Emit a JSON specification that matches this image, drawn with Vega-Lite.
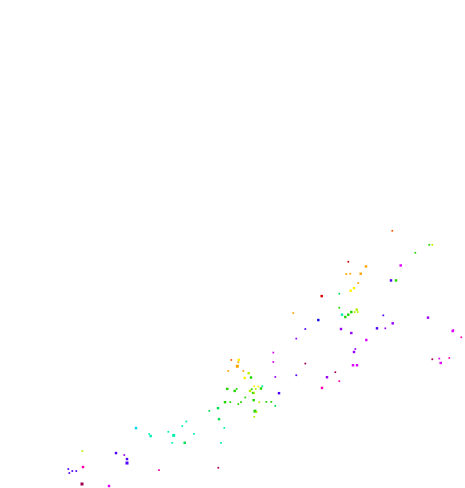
{
  "$schema": "https://vega.github.io/schema/vega-lite/v6.json",
  "width": 465,
  "height": 488,
  "autosize": {"type": "fit", "contains": "padding"},
  "padding": 0,
  "background": "white",
  "config": {"view": {"stroke": null}},
  "data": {"values": [
    {"x":136,"y":429,"c":"c","n":2},
    {"x":149.3,"y":435,"c":"aq","n":1},
    {"x":150.7,"y":437,"c":"aq","n":2},
    {"x":82.3,"y":452,"c":"yg","n":1},
    {"x":116,"y":454,"c":"bv","n":2},
    {"x":124.3,"y":456,"c":"v","n":1},
    {"x":127,"y":460,"c":"bv","n":2},
    {"x":127,"y":464,"c":"bv","n":3},
    {"x":83,"y":468,"c":"p","n":2},
    {"x":68.3,"y":470,"c":"bv","n":1},
    {"x":72.3,"y":472,"c":"bv","n":1},
    {"x":76.3,"y":472,"c":"bv","n":1},
    {"x":69.3,"y":474,"c":"bv","n":1},
    {"x":159,"y":471,"c":"p","n":1},
    {"x":82,"y":485,"c":"dm","n":3},
    {"x":109,"y":487,"c":"m","n":2},
    {"x":225,"y":403,"c":"g","n":2},
    {"x":230.3,"y":403,"c":"g","n":1},
    {"x":245.3,"y":398.3,"c":"g","n":1},
    {"x":253.7,"y":401,"c":"g","n":2},
    {"x":241,"y":403,"c":"g","n":1},
    {"x":238.3,"y":405,"c":"g","n":1},
    {"x":259.3,"y":403,"c":"yg","n":1},
    {"x":255,"y":412,"c":"g","n":3},
    {"x":256.5,"y":413,"c":"yg","n":1},
    {"x":254.3,"y":417.7,"c":"yg","n":1},
    {"x":209.3,"y":411.7,"c":"sg","n":1},
    {"x":218,"y":409,"c":"sg","n":2},
    {"x":219,"y":420,"c":"sg","n":2},
    {"x":224.3,"y":428.7,"c":"aq","n":1},
    {"x":186.3,"y":422.3,"c":"aq","n":1},
    {"x":182.3,"y":427,"c":"aq","n":1},
    {"x":168.3,"y":432.7,"c":"aq","n":1},
    {"x":173.7,"y":436.3,"c":"aq","n":3},
    {"x":194,"y":434.7,"c":"aq","n":1},
    {"x":172.3,"y":443.7,"c":"aq","n":1},
    {"x":184.7,"y":443.7,"c":"sg","n":2},
    {"x":221,"y":443.7,"c":"aq","n":1},
    {"x":218.3,"y":468.7,"c":"dm","n":1},
    {"x":266.3,"y":402.7,"c":"g","n":1},
    {"x":271.3,"y":402.7,"c":"g","n":1},
    {"x":275.3,"y":406.7,"c":"sg","n":1},
    {"x":231.3,"y":360.7,"c":"or","n":1},
    {"x":238.7,"y":360.7,"c":"y","n":2},
    {"x":237.3,"y":367,"c":"o","n":3},
    {"x":238.3,"y":363,"c":"o","n":1},
    {"x":228.3,"y":371.7,"c":"o","n":1},
    {"x":243.3,"y":371.7,"c":"o","n":1},
    {"x":248.7,"y":374,"c":"yg","n":2},
    {"x":244.7,"y":378.7,"c":"y","n":2},
    {"x":251,"y":378.3,"c":"g","n":2},
    {"x":254.3,"y":387,"c":"y","n":1},
    {"x":258.3,"y":387.3,"c":"y","n":1},
    {"x":255.7,"y":389.7,"c":"yg","n":1},
    {"x":262.3,"y":387,"c":"aq","n":1},
    {"x":261,"y":389.3,"c":"g","n":2},
    {"x":227.3,"y":389.7,"c":"g","n":2},
    {"x":236.7,"y":389.7,"c":"g","n":1},
    {"x":234.7,"y":391.7,"c":"g","n":2},
    {"x":251.7,"y":390,"c":"g","n":1},
    {"x":250,"y":391.7,"c":"yg","n":2},
    {"x":253.7,"y":393.7,"c":"yg","n":2},
    {"x":252.7,"y":393.7,"c":"g","n":1},
    {"x":293.3,"y":313.7,"c":"o","n":1},
    {"x":339.3,"y":308.3,"c":"g","n":1},
    {"x":342,"y":315.3,"c":"aq","n":2},
    {"x":345.3,"y":317.7,"c":"g","n":2},
    {"x":348.3,"y":315.3,"c":"g","n":2},
    {"x":351.3,"y":312.7,"c":"g","n":2},
    {"x":356.7,"y":310.3,"c":"yg","n":2},
    {"x":354.7,"y":312.7,"c":"yg","n":1},
    {"x":357.7,"y":312.7,"c":"yg","n":1},
    {"x":318.3,"y":320.7,"c":"b","n":2},
    {"x":305.3,"y":329.7,"c":"bv","n":1},
    {"x":341,"y":329.7,"c":"v","n":2},
    {"x":351.3,"y":333.7,"c":"v","n":2},
    {"x":296.3,"y":339.3,"c":"v","n":1},
    {"x":273.3,"y":353.3,"c":"m","n":1},
    {"x":273.3,"y":362.7,"c":"m","n":1},
    {"x":305.3,"y":364.3,"c":"dm","n":1},
    {"x":355.3,"y":349.7,"c":"v","n":1},
    {"x":354,"y":352.7,"c":"v","n":2},
    {"x":353,"y":366,"c":"m","n":2},
    {"x":357,"y":366,"c":"m","n":2},
    {"x":275.3,"y":377.7,"c":"v","n":1},
    {"x":296.3,"y":376,"c":"bv","n":1},
    {"x":327,"y":378,"c":"v","n":2},
    {"x":335.3,"y":373,"c":"dm","n":1},
    {"x":339.3,"y":382,"c":"p","n":1},
    {"x":322,"y":388.7,"c":"p","n":2},
    {"x":279,"y":394,"c":"bv","n":2},
    {"x":383.3,"y":316,"c":"bv","n":1},
    {"x":392.7,"y":324,"c":"v","n":2},
    {"x":428,"y":318.3,"c":"v","n":2},
    {"x":377,"y":329,"c":"bv","n":2},
    {"x":385.3,"y":329,"c":"v","n":1},
    {"x":366.3,"y":340.7,"c":"m","n":2},
    {"x":453.3,"y":330.7,"c":"m","n":1},
    {"x":452.7,"y":331.7,"c":"m","n":2},
    {"x":461.3,"y":338,"c":"p","n":1},
    {"x":432.3,"y":360,"c":"dm","n":1},
    {"x":439.3,"y":359.3,"c":"m","n":1},
    {"x":449.3,"y":358.7,"c":"p","n":1},
    {"x":440.7,"y":363.7,"c":"m","n":2},
    {"x":348.3,"y":262.3,"c":"r","n":1},
    {"x":346.3,"y":274.7,"c":"o","n":1},
    {"x":350.3,"y":274.3,"c":"o","n":1},
    {"x":360.7,"y":274.3,"c":"o","n":2},
    {"x":358.3,"y":283.7,"c":"o","n":1},
    {"x":350.7,"y":291.3,"c":"y","n":2},
    {"x":354,"y":288.7,"c":"y","n":2},
    {"x":321.7,"y":296.7,"c":"r","n":2},
    {"x":339.3,"y":294.3,"c":"sg","n":1},
    {"x":392.3,"y":231.3,"c":"or","n":1},
    {"x":429.3,"y":245.3,"c":"g","n":1},
    {"x":432.3,"y":245.3,"c":"yg","n":1},
    {"x":415.3,"y":253.3,"c":"g","n":1},
    {"x":366,"y":267,"c":"o","n":2},
    {"x":400.7,"y":266,"c":"m","n":2},
    {"x":391,"y":281,"c":"bv","n":2},
    {"x":396,"y":281,"c":"g","n":2}
  ]},
  "mark": {"type": "square", "filled": true, "opacity": 1, "strokeWidth": 0},
  "encoding": {
    "x": {"field": "x", "type": "quantitative", "scale": {"domain": [0, 465], "nice": false, "zero": false}, "axis": null},
    "y": {"field": "y", "type": "quantitative", "scale": {"domain": [0, 488], "nice": false, "zero": false, "reverse": true}, "axis": null},
    "size": {"field": "n", "type": "quantitative", "scale": {"domain": [1, 3], "range": [3, 9]}, "legend": null},
    "color": {"field": "c", "type": "nominal", "legend": null, "scale": {
      "domain": ["r","or","o","y","yg","g","sg","aq","c","b","bv","v","m","p","dm"],
      "range": ["#d40000","#ff5a00","#ffa500","#fff000","#b4f000","#22d400","#00e050","#00f0b0","#00d8f0","#1a10e0","#5000ff","#9a00ff","#e000ff","#ff00a8","#a00050"]
    }}
  }
}
